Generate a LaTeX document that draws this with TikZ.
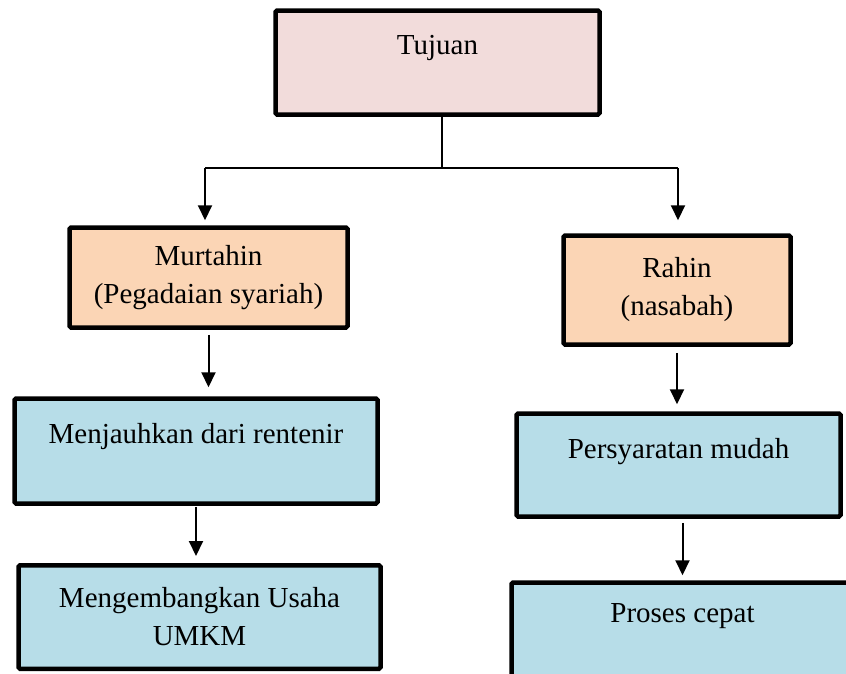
\documentclass[tikz,border=0pt]{standalone}
\usepackage{fontspec}
\setmainfont{Liberation Serif}
\usepackage{tikz}
\usetikzlibrary{arrows.meta,positioning,calc}
\definecolor{tujuanPink}{HTML}{F2DCDB}
\definecolor{pihakPeach}{HTML}{FBD5B5}
\definecolor{hasilBlue}{HTML}{B7DDE8}

\begin{document}
\begin{tikzpicture}[x=1pt,y=-1pt,>={Triangle[width=14pt,length=15pt]},
box/.style={
draw=black,
line width=4.5pt,
rounded corners=1.5pt,
align=center,
inner sep=0pt,
font=\fontsize{29}{38}\selectfont,
},
lifted/.style={text depth=#1},
link/.style={->,line width=2pt}
]
\useasboundingbox (0,0) rectangle (846,673);
\clip (0,0) rectangle (846,673);

\node[box,fill=tujuanPink,minimum width=324pt,minimum height=104pt,lifted=34.4pt] (tujuan) at (437.5,62.5) {Tujuan};
\node[box,fill=pihakPeach,minimum width=278pt,minimum height=100pt] (murtahin) at (208.5,277.5) {Murtahin\\(Pegadaian syariah)};
\node[box,fill=pihakPeach,minimum width=227pt,minimum height=109pt] (rahin) at (677,290) {Rahin\\(nasabah)};
\node[box,fill=hasilBlue,minimum width=363pt,minimum height=105pt,lifted=34.4pt] (rentenir) at (196,451) {Menjauhkan dari rentenir};
\node[box,fill=hasilBlue,minimum width=362pt,minimum height=103.5pt] (umkm) at (199.5,617) {Mengembangkan Usaha\\UMKM};
\node[box,fill=hasilBlue,minimum width=324pt,minimum height=103pt,lifted=32.4pt] (syarat) at (678.5,465) {Persyaratan mudah};
\node[box,fill=hasilBlue,minimum width=342pt,minimum height=130pt,lifted=69.2pt] (proses) at (682.5,647.5) {Proses cepat};

% split from Tujuan
\coordinate (splitL) at (205,168);
\coordinate (splitR) at (678,168);
\draw[line width=1.5pt] ([xshift=4.5pt]tujuan.south) -- ([xshift=4.5pt]tujuan.south |- splitL);
\draw[line width=2pt] (splitL) -- (splitR);
\draw[link,shorten >=5pt] (splitL) -- (splitL |- murtahin.north);
\draw[link,shorten >=13pt] (splitR) -- (splitR |- rahin.north);

\foreach \i/\j/\s/\t in {murtahin/rentenir/5pt/9pt,
                         rentenir/umkm/1pt/7pt,
                         rahin/syarat/6pt/7pt}
  \draw[link,shorten <=\s,shorten >=\t] (\i.south) -- (\i.south |- \j.north);
\draw[link,shorten <=4pt,shorten >=5pt] (proses.north |- syarat.south) -- (proses.north);
\end{tikzpicture}
\end{document}
